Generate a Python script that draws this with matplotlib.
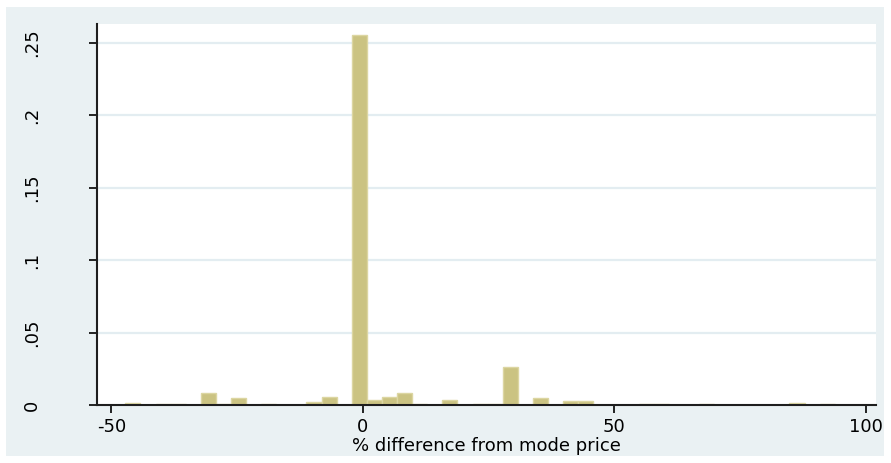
import numpy as np
import matplotlib
matplotlib.use("Agg")
import matplotlib.pyplot as plt
from matplotlib.patches import Rectangle

# histogram of % difference from the mode price (density scale)
bin_start = -47.2
bin_width = 3.0
density = [0.0016, 0, 0.0008, 0.0008, 0, 0.0081, 0.0008, 0.0046, 0, 0.0008,
           0, 0, 0.0023, 0.0057, 0, 0.2555, 0.0035, 0.0057, 0.0081, 0.0008,
           0, 0.0035, 0, 0.0008, 0.0008, 0.0259, 0, 0.0048, 0, 0.0031,
           0.0031, 0, 0, 0, 0.0008, 0.0008, 0, 0, 0.0008, 0,
           0, 0, 0, 0, 0.0016, 0, 0.0008]

xticks = [-50, 0, 50, 100]
yticks = [0, 0.05, 0.1, 0.15, 0.2, 0.25]
ytick_labels = ["0", ".05", ".1", ".15", ".2", ".25"]
xlabel = "% difference from mode price"

W, H = 891, 463
fig = plt.figure(figsize=(W / 100, H / 100), dpi=100, facecolor="white")

# light graph region behind the plot
fig.patches.append(Rectangle((6 / W, 1 - 456 / H), 878 / W, 449 / H,
                             transform=fig.transFigure, facecolor="#eaf1f3",
                             edgecolor="none", zorder=-10))

ax = fig.add_axes([96.7 / W, 1 - 405 / H, (876.5 - 96.7) / W, (405 - 24) / H])
ax.set_facecolor("white")

edges = bin_start + bin_width * np.arange(len(density))
ax.bar(edges, density, width=bin_width, align="edge", color="#cbc382",
       edgecolor="#dcd6a2", linewidth=1.0, zorder=2)

ax.set_xlim(-52.9, 102.1)
ax.set_ylim(0, 0.2631)

for y in yticks[1:]:
    ax.axhline(y, color="#e3edf1", linewidth=1.6, zorder=1)

ax.set_xticks(xticks)
ax.set_xticklabels([str(t) for t in xticks])
ax.set_yticks(yticks)
ax.set_yticklabels(ytick_labels, rotation=90, va="center")

ax.tick_params(axis="x", length=6, width=1.2, pad=3, labelsize=13, colors="black")
ax.tick_params(axis="y", length=6, width=1.2, pad=34, labelsize=13, colors="black")

for s in ["top", "right"]:
    ax.spines[s].set_visible(False)
for s in ["left", "bottom"]:
    ax.spines[s].set_linewidth(1.5)
    ax.spines[s].set_color("#1e1e1e")
    ax.spines[s].set_zorder(3)

ax.set_xlabel(xlabel, fontsize=13, labelpad=1)

fig.savefig("out.png", dpi=100, facecolor="white")
